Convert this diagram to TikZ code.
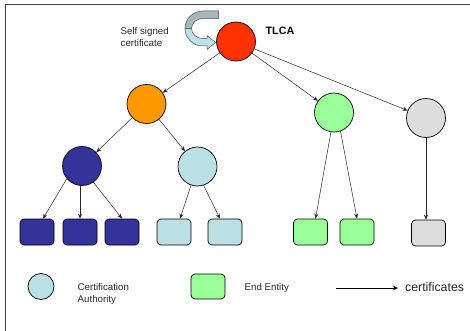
\documentclass[tikz,border=0pt]{standalone}
\usepackage{fontspec}
\setmainfont{Liberation Sans}
\usetikzlibrary{arrows.meta}
\definecolor{rootred}{HTML}{FF3300}
\definecolor{caorange}{HTML}{FF9900}
\definecolor{cadark}{HTML}{333399}
\definecolor{calight}{HTML}{BBE0E3}
\definecolor{eegreen}{HTML}{99FF99}
\definecolor{eegray}{HTML}{DDDDDD}
\definecolor{ribbonback}{HTML}{A3B7BD}
\definecolor{ribbonfront}{HTML}{BCE1E7}
\begin{document}
\begin{tikzpicture}[x=1pt,y=-1pt,
  ca/.style={circle,draw=black,line width=0.7pt,minimum size=39pt,inner sep=0pt},
  ee/.style={rectangle,rounded corners=4pt,draw=black,line width=0.7pt,
             minimum width=34pt,minimum height=26pt,inner sep=0pt},
  cert/.style={draw=black!85,line width=0.5pt,-{Stealth[length=5pt,width=4pt]}},
  lbl/.style={font=\fontsize{9.7}{12}\selectfont,text=black!85,align=left,inner sep=0pt}
]
\useasboundingbox (0,0) rectangle (470,331);
% frame
\draw[line width=1pt,black!75] (470,5) -- (5,5) -- (5,331);

% self-signed ribbon arrow: inner (front) face first, then the back face on top
\fill[ribbonfront,draw=black!70,line width=0.5pt]
  (185,28.5) arc[start angle=180,end angle=270,x radius=18,y radius=-17.5]
  -- (207,46) -- (207,49.5) -- (215.5,42.5) -- (207,35.5) -- (207,38.5) -- (203,38.5)
  arc[start angle=270,end angle=180,x radius=11.5,y radius=-10] -- cycle;
\fill[ribbonback,draw=black!70,line width=0.5pt]
  (218.5,11) -- (203,11)
  arc[start angle=90,end angle=180,x radius=18,y radius=-17.5]
  -- (191.5,28.5)
  arc[start angle=180,end angle=90,x radius=11.5,y radius=-10]
  -- (218.5,18.5) -- cycle;

% certification authorities
\node[ca,fill=rootred]  (tlca)   at (236,41.5) {};
\node[ca,fill=caorange] (sub)    at (146.5,104) {};
\node[ca,fill=cadark]   (cadk)   at (82,166) {};
\node[ca,fill=calight]  (calt)   at (197.5,166.5) {};
\node[ca,fill=eegreen]  (cagrn)  at (334,112.5) {};
\node[ca,fill=eegray]   (cagry)  at (426,118) {};

% end entities
\node[ee,fill=cadark]  (d1) at (37,232) {};
\node[ee,fill=cadark]  (d2) at (80,232) {};
\node[ee,fill=cadark]  (d3) at (122,232) {};
\node[ee,fill=calight] (l1) at (174,232) {};
\node[ee,fill=calight] (l2) at (225,232) {};
\node[ee,fill=eegreen] (g1) at (310.5,232) {};
\node[ee,fill=eegreen] (g2) at (357,232) {};
\node[ee,fill=eegray]  (x1) at (428.5,233) {};

% labels
\node[lbl,anchor=west] (selfsig) at (120.5,37) {Self signed\\certificate};
\node[anchor=west,inner sep=0pt,font=\fontsize{10.7}{12}\selectfont\bfseries] (tlcalbl) at (265.5,30.5) {TLCA};

% certificate links
\draw[cert] (tlca) -- (sub);
\draw[cert] (tlca) -- (cagrn);
\draw[cert] (tlca) -- (cagry);
\draw[cert] (sub) -- (cadk);
\draw[cert] (sub) -- (calt);
\draw[cert] (cadk.220.6) -- ([xshift=6pt]d1.north);
\draw[cert] (cadk.south -| d2.north) -- (d2.north);
\draw[cert] (cadk.305.7) -- (d3.north);
\draw[cert] (calt.251.3) -- ([xshift=6pt]l1.north);
\draw[cert] (calt.288.7) -- ([xshift=-5pt]l2.north);
\draw[cert] (cagrn.261) -- ([xshift=5pt]g1.north);
\draw[cert] (cagrn.289.7) -- (g2.north);
\draw[cert] (cagry.south) -- (cagry.south |- x1.north);

% legend
\node[ca,fill=calight,minimum size=26pt] (legca) at (41,286.5) {};
\node[lbl,anchor=west] (legcatxt) at (77.5,294) {Certification\\Authority};
\node[ee,fill=eegreen,minimum height=25pt] (legee) at (208,286.5) {};
\node[lbl,anchor=west] (legeetxt) at (244.5,288) {End Entity};
\coordinate (legstart) at (336,288);
\node[anchor=west,inner xsep=7pt,inner ysep=0pt,font=\fontsize{12.3}{14}\selectfont,text=black!85] (legcert) at (398,287.5) {certificates};
\draw[line width=1pt,-{Stealth[length=5pt,width=4.5pt]}] (legstart) -- (legcert.west |- legstart);
\end{tikzpicture}
\end{document}
